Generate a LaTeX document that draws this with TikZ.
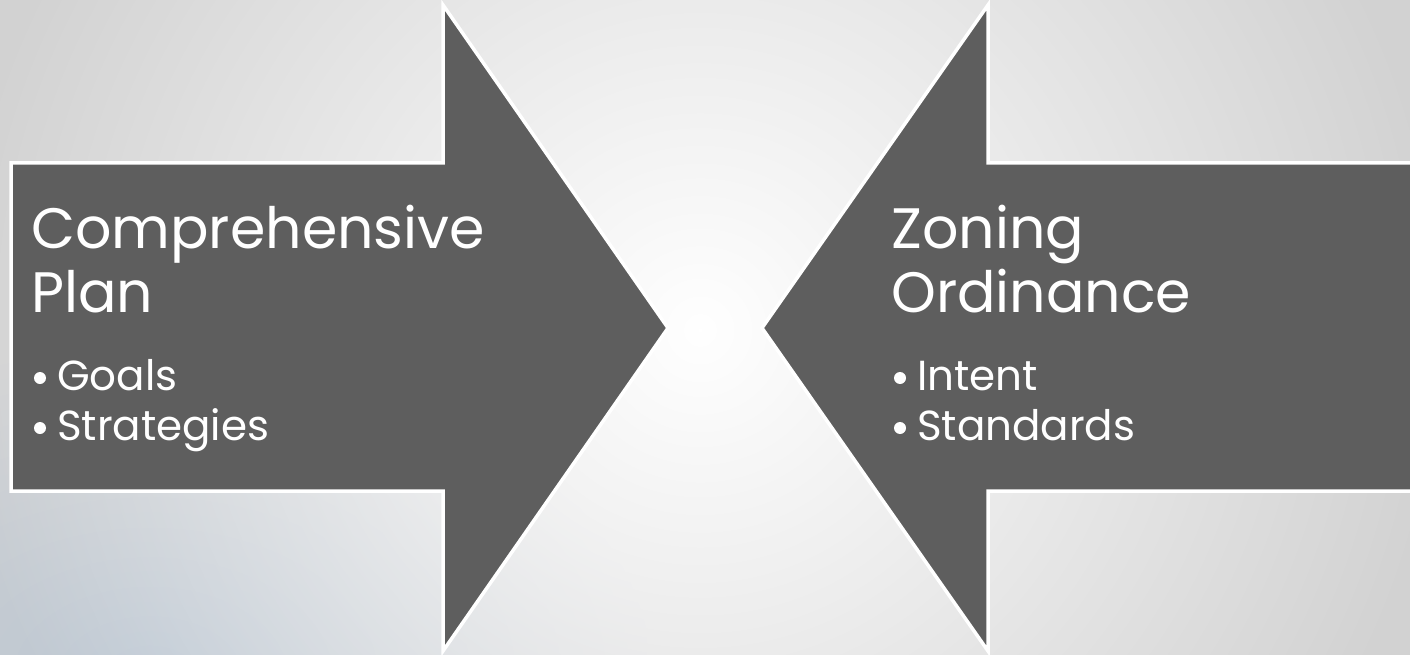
\documentclass[tikz,border=0pt]{standalone}
\usepackage{fontspec}
\setmainfont{Poppins}
\usetikzlibrary{fadings}
\definecolor{arrowgray}{RGB}{94,94,94}
\definecolor{bggray}{RGB}{210,210,210}
\definecolor{bgblue}{RGB}{188,199,211}
\tikzfading[name=softglow, inner color=transparent!0, outer color=transparent!100]
\begin{document}
\begin{tikzpicture}[x=1pt, y=-1pt,
  bigarrow/.style={fill=arrowgray, draw=white, line width=3.5pt, line join=miter},
  heading/.style={text=white, inner sep=0pt, anchor=base west, font=\fontsize{57}{64}\selectfont},
  bullet/.style={text=white, inner sep=0pt, anchor=base west, font=\fontsize{42}{48}\selectfont},
  dot/.style={fill=white}]
  \useasboundingbox (0,0) rectangle (1410,655);
  \begin{scope}
    \clip (0,0) rectangle (1410,655);
    % background
    \fill[bggray] (0,0) rectangle (1410,655);
    \fill[bgblue, path fading=softglow] (-350,350) rectangle (650,1000);
    \fill[white, path fading=softglow] (-50,-420) rectangle (1450,1080);
    % arrows
    \draw[bigarrow] (11,163) -- (443,163) -- (443,5) -- (668,328) -- (443,651) -- (443,491) -- (11,491) -- cycle;
    \draw[bigarrow] (1425,163) -- (988,163) -- (988,5) -- (762,328) -- (988,651) -- (988,491) -- (1425,491) -- cycle;
  \end{scope}
  \node[heading] (compTop) at (31,248) {Comprehensive};
  \node[heading] (compBot) at (31,312) {Plan};
  \node[bullet] (goals) at (57,390) {Goals};
  \node[bullet] (strat) at (57,440) {Strategies};
  \node[heading] (zoneTop) at (891,248) {Zoning};
  \node[heading] (zoneBot) at (891,312) {Ordinance};
  \node[bullet] (intent) at (917,390) {Intent};
  \node[bullet] (standards) at (917,440) {Standards};
  % bullet dots
  \foreach \item in {goals, strat, intent, standards}
    \fill[dot] ([shift={(-17,-12)}]\item.base west) circle (6);
\end{tikzpicture}
\end{document}
